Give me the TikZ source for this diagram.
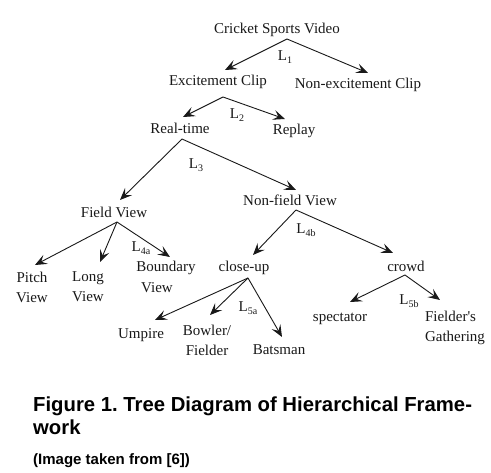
\documentclass[tikz,border=0pt]{standalone}
\usepackage{fontspec}
\setmainfont{Liberation Serif}[Ligatures=TeXOff]
\newfontfamily\capfont{Liberation Sans}
\usetikzlibrary{arrows.meta}
\frenchspacing
\newcommand\Lsub[1]{L\raisebox{-0.35ex}{\fontsize{10}{10}\selectfont #1}}
\begin{document}
\begin{tikzpicture}[x=1pt,y=-1pt,
  lbl/.style={inner sep=0pt,font=\fontsize{15}{20}\selectfont,align=center,text=black!90},
  lev/.style={inner sep=0pt,font=\fontsize{15}{20}\selectfont,text=black!90},
  arr/.style={-{Stealth[length=12pt,width=10pt,inset=5pt]},line width=0.9pt,black!90},
  figcap/.style={inner sep=0pt,anchor=base west,font=\capfont\bfseries\fontsize{20.3}{24}\selectfont}]
\useasboundingbox[fill=white] (0,0) rectangle (491,473);
% nodes
\node[lbl] (csv) at (277,30) {Cricket Sports Video};
\node[lbl] (exc) at (218,82) {Excitement Clip};
\node[lbl] (nexc) at (358,85) {Non-excitement Clip};
\node[lbl] (rt) at (180,128) {Real-time};
\node[lbl] (rep) at (294,131) {Replay};
\node[lbl] (fv) at (114,212) {Field View};
\node[lbl] (nfv) at (290,200) {Non-field View};
\node[lbl] (pv) at (32,287) {Pitch\\View};
\node[lbl] (lv) at (88,287) {Long\\View};
\node[lbl] (bv) at (166,268) {Boundary};
\node[lbl] (bv2) at (157,288) {View};
\node[lbl] (cu) at (244,268) {close-up};
\node[lbl] (cr) at (406,266) {crowd};
\node[lbl] (ump) at (141,335) {Umpire};
\node[lbl] (bf) at (207,340) {Bowler/\\Fielder};
\node[lbl] (bat) at (279,350) {Batsman};
\node[lbl] (spec) at (340,319) {spectator};
\node[lbl,align=left] (fg) at (455,328) {Fielder's\\Gathering};
% level labels
\node[lev] (l1) at (285,57) {\Lsub{1}};
\node[lev] (l2) at (237,115) {\Lsub{2}};
\node[lev] (l3) at (196,165) {\Lsub{3}};
\node[lev] (l4a) at (141,248) {\Lsub{4a}};
\node[lev] (l4b) at (306,230) {\Lsub{4b}};
\node[lev] (l5a) at (248,308) {\Lsub{5a}};
\node[lev] (l5b) at (409,301) {\Lsub{5b}};
% arrows
\draw[arr] ([shift={(10,9)}]csv.center) -- ([shift={(7,-12)}]exc.center);
\draw[arr] ([shift={(10,9)}]csv.center) -- ([shift={(10,-12)}]nexc.center);
\draw[arr] ([shift={(5,15)}]exc.center) -- ([shift={(3,-11)}]rt.center);
\draw[arr] ([shift={(5,15)}]exc.center) -- ([shift={(-9,-12)}]rep.center);
\draw[arr] ([shift={(2,11)}]rt.center) -- ([shift={(6,-12)}]fv.center);
\draw[arr] ([shift={(2,11)}]rt.center) -- ([shift={(6,-10)}]nfv.center);
\draw[arr] ([shift={(3,10)}]fv.center) -- ([shift={(3,-22)}]pv.center);
\draw[arr] ([shift={(3,10)}]fv.center) -- ([shift={(12,-25)}]lv.center);
\draw[arr] ([shift={(3,10)}]fv.center) -- ([shift={(4,-11)}]bv.center);
\draw[arr] ([shift={(6,10)}]nfv.center) -- ([shift={(9,-13)}]cu.center);
\draw[arr] ([shift={(6,10)}]nfv.center) -- ([shift={(-13,-13)}]cr.center);
\draw[arr] ([shift={(4,10)}]cu.center) -- ([shift={(14,-15)}]ump.center);
\draw[arr] ([shift={(4,10)}]cu.center) -- ([shift={(3,-25)}]bf.center);
\draw[arr] ([shift={(4,10)}]cu.center) -- ([shift={(3,-13)}]bat.center);
\draw[arr] ([shift={(-1,9)}]cr.center) -- ([shift={(10,-17)}]spec.center);
\draw[arr] ([shift={(-1,9)}]cr.center) -- ([shift={(-15,-28)}]fg.center);
% caption
\node[figcap] (c1) at (33,412) {Figure 1. Tree Diagram of Hierarchical Frame-};
\node[figcap] (c2) at (33,435) {work};
\node[figcap,font=\capfont\bfseries\fontsize{15}{17}\selectfont] (c3) at (33,465) {(Image taken from [6])};
\end{tikzpicture}
\end{document}
